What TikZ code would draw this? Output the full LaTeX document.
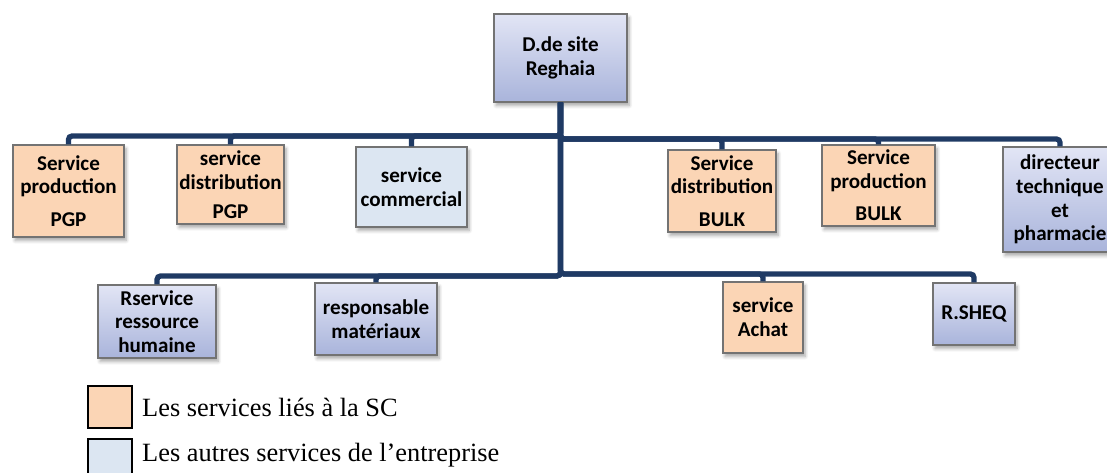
\documentclass[tikz,border=0pt]{standalone}
\usepackage{fontspec}
\setmainfont{Carlito}
\newfontfamily\legfont{Liberation Serif}
\usetikzlibrary{positioning, arrows.meta, shadows.blur}

\definecolor{peach}{HTML}{FBD5B5}
\definecolor{paleblue}{HTML}{DCE6F2}
\definecolor{lavtop}{HTML}{E2E5F5}
\definecolor{lavbot}{HTML}{A9B4DB}
\definecolor{navy}{HTML}{1F3A64}

\begin{document}
\begin{tikzpicture}[x=0.02cm, y=-0.02cm,
    box/.style={draw=gray!90!black, line width=0.7pt, align=center, inner sep=1pt,
      font=\bfseries\fontsize{12}{13.5}\selectfont,
      blur shadow={shadow xshift=1.2pt, shadow yshift=-2pt, shadow blur steps=6, shadow opacity=35}},
    sz/.style 2 args={minimum width=#1*0.02cm, minimum height=#2*0.02cm},
    sc/.style={box, fill=peach},
    other/.style={box, fill=paleblue},
    grad/.style={box, top color=lavtop, bottom color=lavbot},
    link/.style={draw=navy, line width=3pt, rounded corners=2pt},
    key/.style={draw=black, line width=1.2pt, minimum width=0.88cm, minimum height=0.84cm, anchor=north west}]
    \useasboundingbox (0,0) rectangle (1107,473);

    % niveaux des barres
    \coordinate (busL) at (0,136);
    \coordinate (busR) at (0,139);
    \coordinate (lowL) at (0,276);
    \coordinate (lowR) at (0,274);

    % direction
    \node[grad, sz={133}{88}] (dir) at (560.5,58) {D.de site\\Reghaia};

    % premier niveau
    \node[sc, sz={111}{92}] (spp) at (68.5,191) {Service\\production\\[5pt]PGP};
    \node[sc, sz={107}{79}] (sdp) at (230.5,184.5) {service\\distribution\\[3pt]PGP};
    \node[other, sz={111}{80}] (com) at (411.5,187) {service\\commercial};
    \node[sc, sz={108}{82}] (sdb) at (722,191) {Service\\distribution\\[5pt]BULK};
    \node[sc, sz={113}{81}] (spb) at (878.5,185.5) {Service\\production\\[5pt]BULK};
    \node[grad, sz={114}{105}] (dtp) at (1060,199.5) {directeur\\technique\\et\\pharmacie};

    % second niveau
    \node[grad, sz={118}{73}] (rh) at (157,321.5) {Rservice\\ressource\\humaine};
    \node[grad, sz={122}{72}] (mat) at (376,319) {responsable\\matériaux};
    \node[sc, sz={80}{71}] (ach) at (763,317.5) {service\\Achat};
    \node[grad, sz={82}{62}] (sheq) at (974,314) {R.SHEQ};

    % liaisons
    \draw[link] (dir.south) -- (dir.south |- lowL);
    \foreach \s in {spp, sdp, com}
      \draw[link] (dir.south) -- (dir.south |- busL) -| (\s.north);
    \foreach \s in {sdb, spb, dtp}
      \draw[link] (dir.south) -- (dir.south |- busR) -| (\s.north);
    \foreach \s in {rh, mat}
      \draw[link] (dir.south) -- (dir.south |- lowL) -| (\s.north);
    \foreach \s in {ach, sheq}
      \draw[link] (dir.south) -- (dir.south |- lowR) -| (\s.north);

    % légende
    \node[key, fill=peach] (k1) at (87,385) {};
    \node[key, fill=paleblue] (k2) at (87,438) {};
    \node[right=4pt of k1, font=\legfont\fontsize{15}{18}\selectfont, inner sep=1pt] {Les services liés à la SC};
    \node[right=4pt of k2, font=\legfont\fontsize{15}{18}\selectfont, inner sep=1pt, yshift=3pt] {Les autres services de l’entreprise};
\end{tikzpicture}
\end{document}
